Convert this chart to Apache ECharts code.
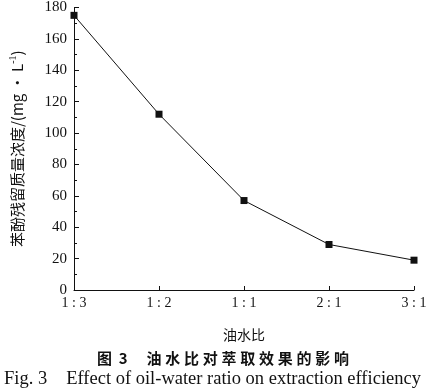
<!DOCTYPE html>
<html><head><meta charset="utf-8">
<script src="https://cdn.jsdelivr.net/npm/echarts@6/dist/echarts.min.js"></script>
<style>html,body{margin:0;padding:0;background:#fff}#c{width:432px;height:390px}</style>
</head><body><div id="c"></div>
<script>
const categories = ['1 : 3', '1 : 2', '1 : 1', '2 : 1', '3 : 1'];
const phenolResidue = [175, 112, 57, 29, 19];
const yTicks = [0, 20, 40, 60, 80, 100, 120, 140, 160, 180];

const chart = echarts.init(document.getElementById('c'));
const serif = '"Liberation Serif", "DejaVu Serif", serif';
const cjk = '"Noto Sans CJK SC", sans-serif';
const sp = '\u2005';
const cnTitle = '图  3' + '\u3000\u2005' + '油水比对萃取效果的影响'.split('').join(sp);
chart.setOption({
  animation: false,
  backgroundColor: '#fff',
  title: [
    { text: cnTitle, left: 92, top: 346,
      textStyle: { fontFamily: cjk, fontSize: 15, fontWeight: 'bold', color: '#111' } },
    { text: 'Fig. 3　Effect of oil-water ratio on extraction efficiency', left: -1, top: 365,
      textStyle: { fontFamily: serif, fontSize: 18.5, fontWeight: 'normal', color: '#111' } }
  ],
  grid: { left: 61, right: 18, top: 7, bottom: 100 },
  xAxis: {
    type: 'category', data: categories, boundaryGap: false,
    name: '油水比', nameLocation: 'middle', nameGap: 38,
    nameTextStyle: { fontFamily: cjk, fontSize: 14, color: '#111' },
    axisLine: { lineStyle: { color: '#111', width: 1 } },
    axisTick: { inside: true, length: 4, lineStyle: { color: '#111' } },
    axisLabel: { fontFamily: serif, fontSize: 14, color: '#111', margin: 6 },
    splitLine: { show: false }
  },
  yAxis: {
    type: 'value', min: 0, max: 180, interval: 20,
    name: '{a|苯酚残留质量浓度/(mg · L}{s|-1}{a|)}', nameLocation: 'middle', nameGap: 48, nameRotate: 90,
    nameTextStyle: { rich: {
      a: { fontFamily: cjk + ',' + serif, fontSize: 15, color: '#111' },
      s: { fontFamily: serif, fontSize: 10, color: '#111', verticalAlign: 'top', padding: [0,0,8,0] }
    } },
    axisLine: { show: true, lineStyle: { color: '#111', width: 1 } },
    axisTick: { show: true, inside: true, length: 5, lineStyle: { color: '#111' } },
    minorTick: { show: true, splitNumber: 2, length: 3, lineStyle: { color: '#111' } },
    axisLabel: { fontFamily: serif, fontSize: 15, color: '#111', margin: 7,
      formatter: v => yTicks.includes(v) ? String(v) : '' },
    splitLine: { show: false }
  },
  series: [{
    type: 'line', data: phenolResidue,
    symbol: 'rect', symbolSize: 7,
    lineStyle: { color: '#111', width: 1 },
    itemStyle: { color: '#111' }
  }]
});
</script></body></html>
